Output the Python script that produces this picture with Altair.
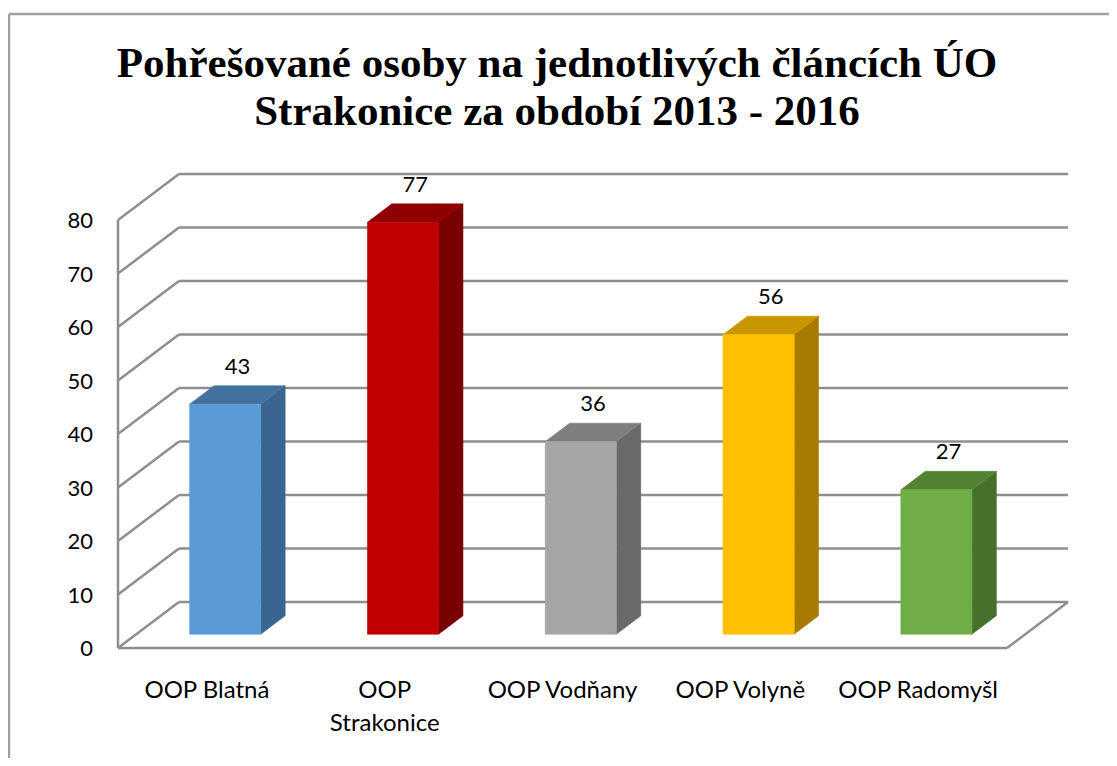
import altair as alt
import pandas as pd

# ---- data -------------------------------------------------------------
title_lines = ["Pohřešované osoby na jednotlivých článcích ÚO",
               "Strakonice za období  2013 - 2016"]
categories = ["OOP Blatná", "OOP Strakonice", "OOP Vodňany", "OOP Volyně", "OOP Radomyšl"]
category_labels = ["OOP Blatná", "OOP\nStrakonice", "OOP Vodňany", "OOP Volyně", "OOP Radomyšl"]
values = [43, 77, 36, 56, 27]
front_colors = ["#5B9BD5", "#C00000", "#A5A5A5", "#FFC000", "#70AD47"]
top_colors = ["#44729F", "#8F0000", "#7F7F7F", "#C79600", "#548235"]
side_colors = ["#3A6590", "#780000", "#6A6A6A", "#A67C00", "#47702C"]
y_ticks = [0, 10, 20, 30, 40, 50, 60, 70, 80]

# ---- 3-D look (sizes in data units) ----------------------------------
N = len(categories)
DEPTH_X = 0.343      # floor depth, in category slots
DEPTH_Y = 8.6        # floor depth, in value units
FRONT_D = 0.30       # bar front plane (fraction of depth)
BACK_D = 0.70        # bar back plane
BAR_W = 0.40         # bar width, in category slots
X_MAX = N + DEPTH_X
Y_MAX = max(y_ticks) + DEPTH_Y
DDX = (BACK_D - FRONT_D) * DEPTH_X

GRID = "#8E8E8E"
BORDER = "#A0A0A0"

bars = pd.DataFrame({"cat": categories, "label": category_labels, "value": values,
                     "front": front_colors, "top": top_colors, "side": side_colors})
bars["i"] = range(N)
bars["xl"] = bars["i"] + 0.5 - BAR_W / 2 + FRONT_D * DEPTH_X
bars["xr"] = bars["xl"] + BAR_W
bars["y0"] = FRONT_D * DEPTH_Y
bars["yt"] = bars["value"] + FRONT_D * DEPTH_Y
bars["yb"] = bars["value"] + BACK_D * DEPTH_Y
bars["xc"] = bars["xl"] + BAR_W / 2 + DDX / 2
bars["xcat"] = bars["i"] + 0.5

rows = []
for _, b in bars.iterrows():
    sid = f"side{b.i}"
    rows.append({"poly": sid, "fill": b.side, "x": b.xr, "y": b.yt, "y2": b.y0})
    rows.append({"poly": sid, "fill": b.side, "x": b.xr + DDX, "y": b.yb,
                 "y2": BACK_D * DEPTH_Y})
    tid = f"top{b.i}"
    rows.append({"poly": tid, "fill": b.top, "x": b.xl, "y": b.yt, "y2": b.yt})
    rows.append({"poly": tid, "fill": b.top, "x": b.xl + DDX, "y": b.yb, "y2": b.yt})
    rows.append({"poly": tid, "fill": b.top, "x": b.xr, "y": b.yb, "y2": b.yt})
    rows.append({"poly": tid, "fill": b.top, "x": b.xr + DDX, "y": b.yb, "y2": b.yb})
polys = pd.DataFrame(rows)

grid = pd.DataFrame({"v": y_ticks})
grid["yb"] = grid["v"] + DEPTH_Y

one = pd.DataFrame({"t": ["\n".join(title_lines)]})

xs = alt.Scale(domain=[0, X_MAX], nice=False, zero=False)
ys = alt.Scale(domain=[0, Y_MAX], nice=False, zero=False)

# ---- layers -----------------------------------------------------------
border_top = alt.Chart(one).mark_rule(color=BORDER, strokeWidth=2.5).encode(
    x=alt.value(-109), x2=alt.value(1000), y=alt.value(-160))
border_left = alt.Chart(one).mark_rule(color=BORDER, strokeWidth=2.5).encode(
    x=alt.value(-109), y=alt.value(-160), y2=alt.value(600))

back_wall = alt.Chart(grid).mark_rule(color=GRID, strokeWidth=2.5).encode(
    x=alt.XDatum(DEPTH_X, type="quantitative", scale=xs, axis=None),
    x2=alt.X2Datum(X_MAX),
    y=alt.Y("yb:Q", scale=ys, axis=None))

left_wall = alt.Chart(grid).mark_rule(color=GRID, strokeWidth=2.5).encode(
    x=alt.XDatum(0, type="quantitative", scale=xs, axis=None),
    x2=alt.X2Datum(DEPTH_X),
    y=alt.Y("v:Q", scale=ys, axis=None),
    y2="yb:Q")

y_labels = alt.Chart(grid).mark_text(font="Lato", fontSize=22, color="black",
                                     align="right", baseline="middle", dx=-25, dy=1).encode(
    x=alt.XDatum(0, type="quantitative", scale=xs, axis=None),
    y=alt.Y("v:Q", scale=ys, axis=None),
    text="v:Q")

front_edge = alt.Chart(one).mark_rule(color=GRID, strokeWidth=2.5).encode(
    x=alt.XDatum(0, type="quantitative", scale=xs, axis=None),
    y=alt.YDatum(min(y_ticks), type="quantitative", scale=ys, axis=None),
    y2=alt.Y2Datum(max(y_ticks)))

floor_front = alt.Chart(one).mark_rule(color=GRID, strokeWidth=2.5).encode(
    x=alt.XDatum(0, type="quantitative", scale=xs, axis=None),
    x2=alt.X2Datum(N),
    y=alt.YDatum(0, type="quantitative", scale=ys, axis=None))

floor_right = alt.Chart(one).mark_rule(color=GRID, strokeWidth=2.5).encode(
    x=alt.XDatum(N, type="quantitative", scale=xs, axis=None),
    x2=alt.X2Datum(X_MAX),
    y=alt.YDatum(0, type="quantitative", scale=ys, axis=None),
    y2=alt.Y2Datum(DEPTH_Y))

faces = alt.Chart(polys).mark_area(orient="vertical", interpolate="linear",
                                   strokeWidth=0.6).encode(
    x=alt.X("x:Q", scale=xs, axis=None),
    y=alt.Y("y:Q", scale=ys, axis=None, stack=None),
    y2="y2:Q",
    color=alt.Color("fill:N", scale=None),
    stroke=alt.Stroke("fill:N", scale=None),
    detail="poly:N")

fronts = alt.Chart(bars).mark_rect(strokeWidth=0.6).encode(
    x=alt.X("xl:Q", scale=xs, axis=None),
    x2="xr:Q",
    y=alt.Y("y0:Q", scale=ys, axis=None),
    y2="yt:Q",
    color=alt.Color("front:N", scale=None),
    stroke=alt.Stroke("front:N", scale=None))

value_labels = alt.Chart(bars).mark_text(font="Lato", fontSize=22, color="black",
                                         baseline="middle", dy=-19).encode(
    x=alt.X("xc:Q", scale=xs, axis=None),
    y=alt.Y("yb:Q", scale=ys, axis=None),
    text="value:Q")

cat_labels = alt.Chart(bars).mark_text(font="Lato", fontSize=24, color="black",
                                       baseline="top", align="center", dy=31,
                                       lineBreak="\n", lineHeight=33).encode(
    x=alt.X("xcat:Q", scale=xs, axis=None),
    y=alt.YDatum(0, type="quantitative", scale=ys, axis=None),
    text="label:N")

title = alt.Chart(one).mark_text(font="Liberation Serif", fontSize=43, fontWeight="bold",
                                 color="black", align="center", baseline="alphabetic",
                                 lineBreak="\n", lineHeight=48).encode(
    x=alt.value(439), y=alt.value(-97), text="t:N")

chart = alt.layer(
    border_top, border_left, back_wall, left_wall, front_edge, floor_front, floor_right,
    faces, fronts, y_labels, value_labels, cat_labels, title
).properties(
    width=950, height=474,
    padding={"left": 110, "top": 166, "right": 41, "bottom": 110},
    autosize=alt.AutoSizeParams(type="none"),
    background="white",
).configure_view(stroke=None)

chart.save("out.html", embed_options={"renderer": "svg", "actions": False})
